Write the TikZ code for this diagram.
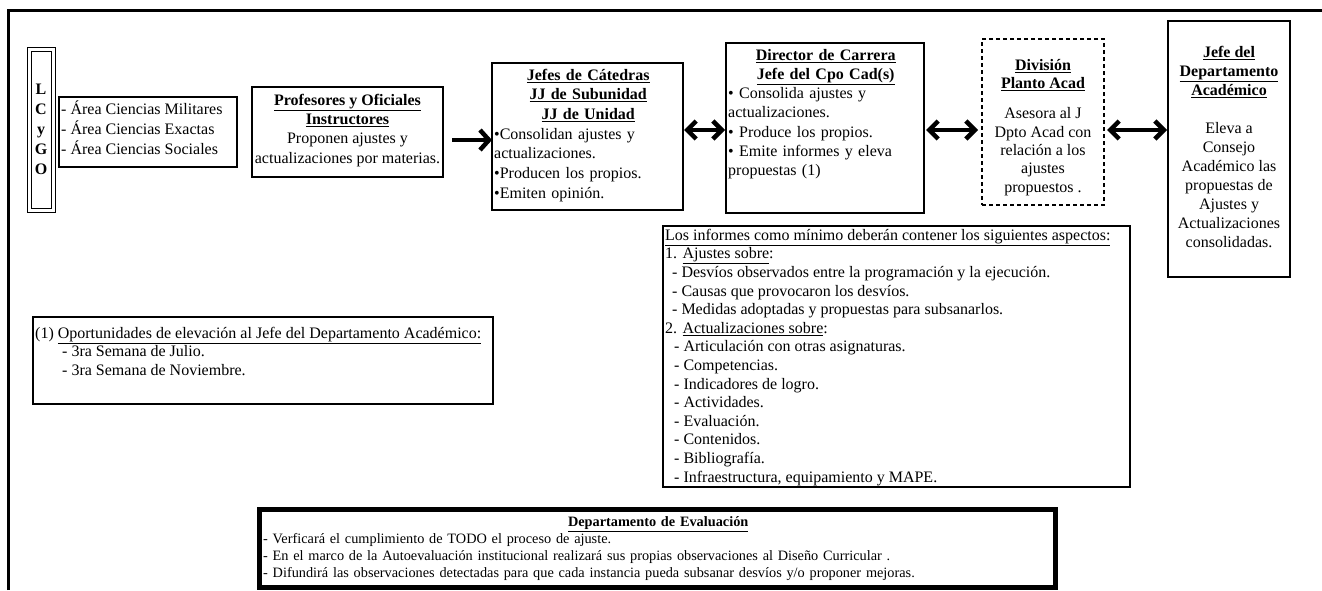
\documentclass[tikz,border=0pt]{standalone}
\usepackage{fontspec}
\setmainfont{Liberation Serif}
\usetikzlibrary{arrows.meta}
\newcommand{\hd}[1]{\textbf{\underline{#1}}}
\begin{document}
\begin{tikzpicture}[x=1pt,y=-1pt,
  box/.style={draw, line width=1.2pt, inner sep=0pt, outer sep=0pt, anchor=north west},
  txt/.style={inner sep=0pt, anchor=north},
  arr/.style={line width=4.5pt, -{Straight Barb[length=9pt,width=20pt]}},
  dbl/.style={line width=4.5pt, {Straight Barb[length=9pt,width=18pt]}-{Straight Barb[length=9pt,width=18pt]}}
]
\useasboundingbox (0,0) rectangle (1322,590);
\fill[white] (0,0) rectangle (1322,590);
\draw[line width=3pt] (8,590) -- (8,10) -- (1322,10);

% LCyGO
\node[draw, double, double distance=3pt, line width=1pt, minimum width=24pt, minimum height=161pt,
      inner sep=0pt, align=center, font=\fontsize{16}{20}\selectfont\bfseries] (lcygo) at (41,129.5) {L\\C\\y\\G\\O};

% Areas
\node[box, minimum width=178pt, minimum height=70pt] (areas) at (59,97) {};
\node[txt, anchor=north west, align=left, font=\fontsize{16}{19.5}\selectfont] (areasT) at (61,100.4)
  {\strut- Área Ciencias Militares\\- Área Ciencias Exactas\\- Área Ciencias Sociales};

% Profesores
\node[box, minimum width=191pt, minimum height=90pt] (prof) at (252,87) {};
\node[txt, align=center, font=\fontsize{16}{19.3}\selectfont] (profT) at (347.5,91.5)
  {\strut\hd{Profesores y Oficiales}\\\hd{Instructores}\\Proponen ajustes y\\actualizaciones por materias.};

% Jefes de Catedras
\node[box, minimum width=191pt, minimum height=147pt] (jefes) at (492,63) {};
\node[txt, anchor=north west, text width=188pt, align=left, font=\fontsize{16}{19.7}\selectfont] (jefesT) at (494,66.2)
  {\strut\makebox[\linewidth]{\hd{Jefes de Cátedras}}\\\makebox[\linewidth]{\hd{JJ de Subunidad}}\\\makebox[\linewidth]{\hd{JJ de Unidad}}\\•Consolidan ajustes y\\actualizaciones.\\•Producen los propios.\\•Emiten opinión.};

% Director
\node[box, minimum width=198pt, minimum height=170pt] (dir) at (726,43) {};
\node[txt, anchor=north west, text width=195pt, align=left, font=\fontsize{16}{19.2}\selectfont] (dirT) at (728,46.6)
  {\strut\makebox[\linewidth]{\hd{Director de Carrera}}\\\makebox[\linewidth]{\hd{Jefe del Cpo Cad(s)}}\\• Consolida ajustes y\\actualizaciones.\\• Produce los propios.\\• Emite informes y eleva\\propuestas (1)};

% Division
\node[box, dashed, dash pattern=on 4pt off 3pt, minimum width=122pt, minimum height=166pt] (div) at (982,39) {};
\node[txt, align=center, font=\fontsize{16}{18.3}\selectfont] (divT) at (1043,57.2)
  {\strut\hd{División}\\\hd{Planto Acad}\\[12pt]Asesora al J\\Dpto Acad con\\relación a los\\ajustes\\propuestos .};

% Jefe del Departamento
\node[box, minimum width=122pt, minimum height=256pt] (jefe) at (1168,21) {};
\node[txt, align=center, font=\fontsize{16}{19}\selectfont] (jefeT) at (1229,43.7)
  {\strut\hd{Jefe del}\\\hd{Departamento}\\\hd{Académico}\\[19pt]Eleva a\\Consejo\\Académico las\\propuestas de\\Ajustes y\\Actualizaciones\\consolidadas.};

% Informes
\node[box, minimum width=467pt, minimum height=261pt] (inf) at (663,226) {};
\node[txt, anchor=north west, align=left, font=\fontsize{16}{18.6}\selectfont] (infT) at (665,227)
  {\strut\underline{Los informes como mínimo deberán contener los siguientes aspectos:}\\
   1. \underline{Ajustes sobre}:\\
   \hspace*{7pt}- Desvíos observados entre la programación y la ejecución.\\
   \hspace*{7pt}- Causas que provocaron los desvíos.\\
   \hspace*{7pt}- Medidas adoptadas y propuestas para subsanarlos.\\
   2. \underline{Actualizaciones sobre}:\\
   \hspace*{9pt}- Articulación con otras asignaturas.\\
   \hspace*{9pt}- Competencias.\\
   \hspace*{9pt}- Indicadores de logro.\\
   \hspace*{9pt}- Actividades.\\
   \hspace*{9pt}- Evaluación.\\
   \hspace*{9pt}- Contenidos.\\
   \hspace*{9pt}- Bibliografía.\\
   \hspace*{9pt}- Infraestructura, equipamiento y MAPE.};

% Oportunidades
\node[box, minimum width=460pt, minimum height=87pt] (op) at (33,317) {};
\node[txt, anchor=north west, align=left, font=\fontsize{16}{18.5}\selectfont] (opT) at (35,325)
  {\strut(1) \underline{Oportunidades de elevación al Jefe del Departamento Académico:}\\
   \hspace*{27pt}- 3ra Semana de Julio.\\
   \hspace*{27pt}- 3ra Semana de Noviembre.};

% Departamento de Evaluacion
\node[draw, line width=5pt, inner sep=0pt, outer sep=0pt, anchor=north west, minimum width=796pt, minimum height=78pt] (eval) at (259.5,509.5) {};
\node[txt, anchor=north west, text width=790pt, align=left, font=\fontsize{14.3}{17}\selectfont] (evalT) at (263,514.5)
  {\strut\makebox[\linewidth]{\hd{Departamento de Evaluación}}\\
   - Verficará el cumplimiento de TODO el proceso de ajuste.\\
   - En el marco de la Autoevaluación institucional realizará sus propias observaciones al Diseño Curricular .\\
   - Difundirá las observaciones detectadas para que cada instancia pueda subsanar desvíos y/o proponer mejoras.};

% Arrows
\draw[arr] ([xshift=9pt,yshift=-8pt]prof.east) -- ([yshift=-3.5pt]jefes.west);
\draw[dbl] ([xshift=1pt,yshift=6.5pt]jefes.east) -- ([xshift=-1pt,yshift=-2pt]dir.west);
\draw[dbl] ([xshift=2pt,yshift=-2pt]dir.east) -- ([xshift=-4pt,yshift=-8pt]div.west);
\draw[dbl] ([xshift=3pt,yshift=-8pt]div.east) -- ([xshift=-1pt,yshift=19pt]jefe.west);
\end{tikzpicture}
\end{document}
